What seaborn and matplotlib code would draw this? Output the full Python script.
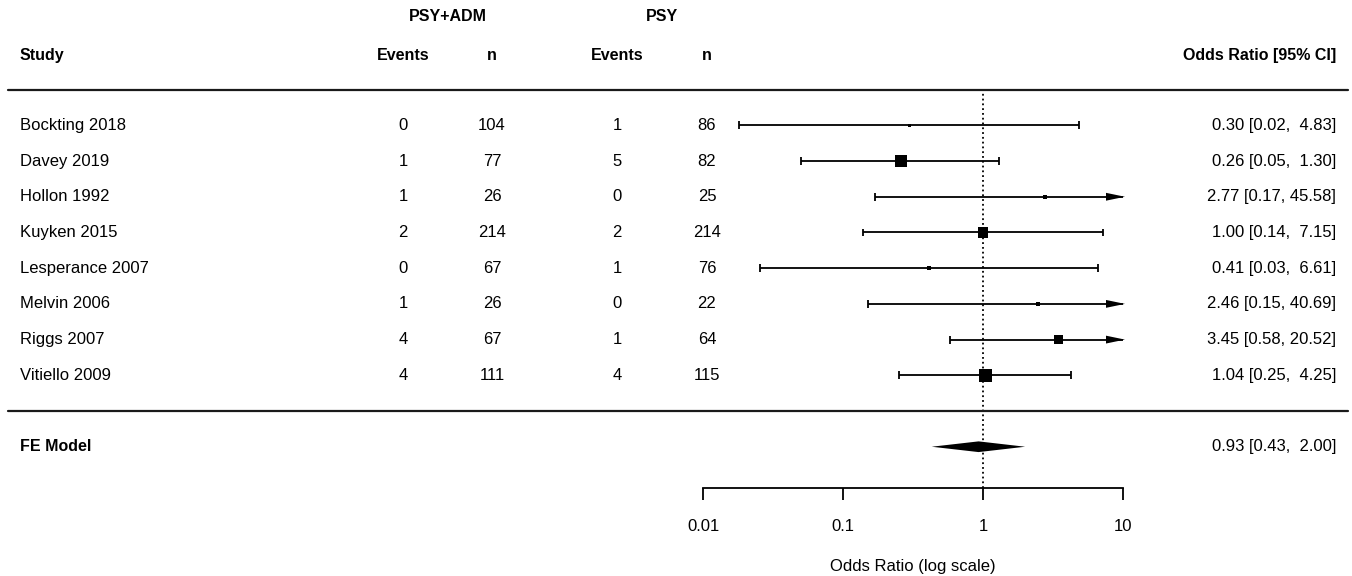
import numpy as np
import pandas as pd
import seaborn as sns
import matplotlib
matplotlib.use("Agg")
import matplotlib.pyplot as plt
from matplotlib.ticker import NullLocator

# data
studies = ["Bockting 2018", "Davey 2019", "Hollon 1992", "Kuyken 2015",
           "Lesperance 2007", "Melvin 2006", "Riggs 2007", "Vitiello 2009"]
ev_trt = [0, 1, 1, 2, 0, 1, 4, 4]
n_trt = [104, 77, 26, 214, 67, 26, 67, 111]
ev_ctl = [1, 5, 0, 2, 1, 0, 1, 4]
n_ctl = [86, 82, 25, 214, 76, 22, 64, 115]
or_est = [0.30, 0.26, 2.77, 1.00, 0.41, 2.46, 3.45, 1.04]
ci_low = [0.018, 0.05, 0.17, 0.14, 0.0254, 0.15, 0.58, 0.25]
ci_high = [4.83, 1.30, 45.58, 7.15, 6.61, 40.69, 20.52, 4.25]
weights = [5.7, 18.9, 7.5, 17.0, 7.5, 7.5, 15.1, 20.8]
fe_est, fe_low, fe_high = 0.93, 0.43, 2.00
axis_ticks = [0.01, 0.1, 1, 10]
axis_labels = ["0.01", "0.1", "1", "10"]

k = len(studies)
df = pd.DataFrame({"study": studies, "or": or_est, "lo": ci_low, "hi": ci_high,
                   "w": weights, "row": np.arange(k, 0, -1)})

sns.set_theme(style="white")
plt.rcParams["font.family"] = ["Liberation Sans", "DejaVu Sans"]
plt.rcParams["text.color"] = "black"

W, H = 1352, 576
fig = plt.figure(figsize=(W / 100, H / 100), dpi=100)
ax = fig.add_axes([0, 0, 1, 1])
ax.set_xscale("log")
# 140 px per decade, OR = 1 at x = 983 px
ax.set_xlim(10 ** (-983 / 140), 10 ** ((W - 983) / 140))
ax.set_ylim(-4.62, 11.51)

alim = 10
axis_y = -2.15
lw = 1.3

# confidence intervals
hi_clip = np.minimum(df["hi"], alim)
ax.hlines(df["row"], df["lo"], hi_clip, color="black", lw=lw)
ax.vlines(df["lo"], df["row"] - 0.11, df["row"] + 0.11, color="black", lw=lw)
inside = df["hi"] <= alim
ax.vlines(df.loc[inside, "hi"], df.loc[inside, "row"] - 0.11,
          df.loc[inside, "row"] + 0.11, color="black", lw=lw)
x0 = alim * 10 ** (-17 / 140)
for r in df.loc[~inside, "row"]:
    ax.fill([x0, alim * 10 ** (2 / 140), x0], [r - 0.11, r, r + 0.11], color="black", lw=0)

# squares sized by weight
side_px = 3 + 9.5 * (df["w"] - df["w"].min()) / (df["w"].max() - df["w"].min())
sns.scatterplot(data=df, x="or", y="row", marker="s", s=((side_px * 0.72) ** 2).to_numpy(),
                color="black", edgecolor="none", legend=False, ax=ax, zorder=3)

# summary diamond
ax.fill([fe_low, fe_est, fe_high, fe_est], [-1, -1 + 0.15, -1, -1 - 0.15],
        color="black", lw=0, zorder=3)

# reference line and separators
ax.vlines(1, axis_y, k + 1, color="black", lw=1.3, linestyles=":")
for yy in [k + 1, 0]:
    ax.axhline(yy, xmin=8 / W, xmax=1348 / W, color="#1a1a1a", lw=1.6)

# text columns
tr = ax.get_yaxis_transform()
fs = 12
hfs = 11.5
col_study = 20 / W
col_e1, col_n1, col_e2, col_n2 = 403 / W, 492 / W, 617 / W, 707 / W
col_or = 1336 / W

ax.text((col_e1 + col_n1) / 2, k + 3.05, "PSY+ADM", ha="center", va="center",
        transform=tr, fontsize=hfs, fontweight="bold")
ax.text((col_e2 + col_n2) / 2, k + 3.05, "PSY", ha="center", va="center",
        transform=tr, fontsize=hfs, fontweight="bold")
for xx, lab, ha in [(col_study, "Study", "left"), (col_e1, "Events", "center"),
                    (col_n1, "n", "center"), (col_e2, "Events", "center"),
                    (col_n2, "n", "center"), (col_or, "Odds Ratio [95% CI]", "right")]:
    ax.text(xx, k + 1.95, lab, ha=ha, va="center", transform=tr, fontsize=hfs,
            fontweight="bold")

wl = max(len(f"{v:.2f}") for v in ci_low + [fe_low])
wh = max(len(f"{v:.2f}") for v in ci_high + [fe_high])


def or_text(e, lo, hi):
    return f"{e:.2f} [{lo:>{wl}.2f}, {hi:>{wh}.2f}]"


for i in range(k):
    r = df["row"][i]
    ax.text(col_study, r, studies[i], ha="left", va="center", transform=tr, fontsize=fs)
    for xx, v in [(col_e1, ev_trt[i]), (col_n1, n_trt[i]),
                  (col_e2, ev_ctl[i]), (col_n2, n_ctl[i])]:
        ax.text(xx, r, str(v), ha="center", va="center", transform=tr, fontsize=fs)
    ax.text(col_or, r, or_text(or_est[i], ci_low[i], ci_high[i]), ha="right",
            va="center", transform=tr, fontsize=fs)

ax.text(col_study, -1, "FE Model", ha="left", va="center", transform=tr,
        fontsize=hfs, fontweight="bold")
ax.text(col_or, -1, or_text(fe_est, fe_low, fe_high), ha="right", va="center",
        transform=tr, fontsize=fs)

# bottom axis
for s in ["left", "right", "top"]:
    ax.spines[s].set_visible(False)
ax.spines["bottom"].set_position(("data", axis_y))
ax.spines["bottom"].set_bounds(axis_ticks[0], axis_ticks[-1])
ax.spines["bottom"].set_color("black")
ax.spines["bottom"].set_linewidth(lw)
ax.set_xticks(axis_ticks)
ax.set_xticklabels(axis_labels)
ax.xaxis.set_minor_locator(NullLocator())
ax.set_yticks([])
ax.tick_params(axis="x", bottom=True, direction="out", length=8.6, width=lw,
               pad=14, labelsize=fs, colors="black")
ax.set_xlabel("Odds Ratio (log scale)", fontsize=fs, color="black")
ax.xaxis.set_label_coords(913 / W, (H - 567) / H)
ax.xaxis.label.set_va("center")
ax.set_ylabel("")
ax.patch.set_alpha(0)

fig.savefig("out.png", dpi=100)
